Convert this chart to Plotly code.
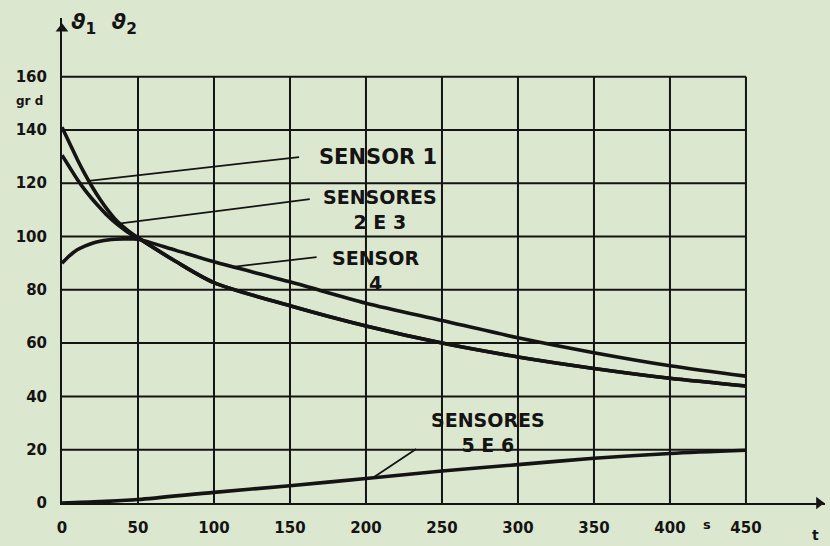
import numpy as np
import plotly.graph_objects as go

# ---------------- data ----------------
t_s = [0, 5, 10, 15, 20, 25, 30, 35, 40, 45, 50, 75, 100, 150, 200, 250, 300, 350, 400, 450]
sensor_1 = [141, 135, 129, 123.5, 118.5, 114, 110, 106.5, 103.8, 101.5, 99.5,
            90.6, 82.7, 74, 66.4, 60, 54.8, 50.5, 46.8, 43.9]
sensores_2_3 = [130.5, 126, 121.5, 117.5, 114, 110.8, 107.8, 105.2, 103, 101, 99.5,
                90.6, 82.7, 74, 66.4, 60, 54.8, 50.5, 46.8, 43.9]
sensor_4 = [90, 92.8, 95, 96.4, 97.5, 98.2, 98.7, 99, 99.1, 99.1, 99,
            94.8, 90.5, 83, 75, 68.5, 62, 56.4, 51.5, 47.6]
t_56 = [0, 25, 50, 100, 150, 200, 250, 300, 350, 400, 450]
sensores_5_6 = [0, 0.5, 1.3, 4, 6.5, 9.2, 12, 14.4, 16.8, 18.6, 19.8]

x_ticks = [0, 50, 100, 150, 200, 250, 300, 350, 400, 450]
x_labels = ["0", "50", "100", "150", "200", "250", "300", "350", "400", "450"]
y_ticks = [0, 20, 40, 60, 80, 100, 120, 140, 160]
y_labels = ["0", "20", "40", "60", "80", "100", "120", "140", "160"]

# ---------------- style ----------------
BG = "rgb(220,231,207)"
INK = "#141414"
FONT = "DejaVu Sans"
X_RANGE = [0, 502]
Y_RANGE = [0, 182]

fig = go.Figure()

# grid drawn only over the 0..450 x 0..160 field, from tick lists
gx, gy = [], []
for v in x_ticks[1:]:
    gx += [v, v, None]
    gy += [0, y_ticks[-1], None]
for v in y_ticks[1:]:
    gx += [0, x_ticks[-1], None]
    gy += [v, v, None]
fig.add_trace(go.Scatter(x=gx, y=gy, mode="lines", line=dict(color=INK, width=2),
                         hoverinfo="skip", showlegend=False))

curve = dict(color=INK, width=3.6, shape="spline", smoothing=0.8)
fig.add_trace(go.Scatter(x=t_s, y=sensor_1, mode="lines", line=curve, name="Sensor 1", showlegend=False))
fig.add_trace(go.Scatter(x=t_s, y=sensores_2_3, mode="lines", line=curve, name="Sensores 2 e 3", showlegend=False))
fig.add_trace(go.Scatter(x=t_s, y=sensor_4, mode="lines", line=curve, name="Sensor 4", showlegend=False))
fig.add_trace(go.Scatter(x=t_56, y=sensores_5_6, mode="lines", line=curve, name="Sensores 5 e 6", showlegend=False))

# axis arrowheads at the ends of the axes
fig.add_trace(go.Scatter(x=[X_RANGE[1] - 4], y=[0], mode="markers", cliponaxis=False,
                         marker=dict(symbol="triangle-right", size=11, color=INK),
                         hoverinfo="skip", showlegend=False))
fig.add_trace(go.Scatter(x=[0], y=[Y_RANGE[1] - 4], mode="markers", cliponaxis=False,
                         marker=dict(symbol="triangle-up", size=11, color=INK),
                         hoverinfo="skip", showlegend=False))

ann = []
shapes = []


def label(text, x, y, size=21):
    ann.append(dict(x=x, y=y, xref="x", yref="y", text=text, showarrow=False,
                    xanchor="center", yanchor="middle",
                    font=dict(family=FONT, size=size, color=INK, weight="bold")))


def leader(px, series_x, series_y, tx, ty):
    py = float(np.interp(px, series_x, series_y))
    shapes.append(dict(type="line", xref="x", yref="y", x0=px, y0=py, x1=tx, y1=ty,
                       line=dict(color=INK, width=1.8)))


label("SENSOR 1", 208, 129.8)
leader(17.6, t_s, sensor_1, 156, 129.8)

label("SENSORES<br>2 E 3", 209, 110, 19)
leader(36, t_s, sensores_2_3, 163, 114)

label("SENSOR<br>4", 206, 87.3, 19)
leader(112.5, t_s, sensor_4, 167.5, 92.3)

label("SENSORES<br>5 E 6", 280, 26.3, 19)
leader(204.6, t_56, sensores_5_6, 233, 20.3)


def paper_text(text, x, y, size):
    ann.append(dict(x=x, y=y, xref="paper", yref="paper", showarrow=False, text=text,
                    xanchor="center", yanchor="middle",
                    font=dict(family=FONT, size=size, color=INK, weight="bold")))


# axis titles / units
ann.append(dict(x=27.5, y=180, xref="x", yref="y", showarrow=False,
                xanchor="center", yanchor="middle",
                text="<i>ϑ</i><sub>1</sub>  <i>ϑ</i><sub>2</sub>",
                font=dict(family=FONT, size=22, color=INK, weight="bold")))
paper_text("gr d", -0.043, 0.829, 12)
paper_text("s", 0.845, -0.045, 13)
paper_text("t", 0.987, -0.066, 14)

tickfont = dict(family=FONT, size=15, color=INK, weight="bold")
fig.update_layout(
    width=830, height=546,
    margin=dict(l=62, r=5, t=18, b=43),
    paper_bgcolor=BG, plot_bgcolor=BG,
    annotations=ann, shapes=shapes,
    xaxis=dict(range=X_RANGE, tickvals=x_ticks, ticktext=x_labels, showgrid=False, zeroline=False,
               showline=True, linecolor=INK, linewidth=2, ticks="outside", ticklen=0,
               ticklabelstandoff=10, tickfont=tickfont),
    yaxis=dict(range=Y_RANGE, tickvals=y_ticks, ticktext=y_labels, showgrid=False, zeroline=False,
               showline=True, linecolor=INK, linewidth=2, ticks="outside", ticklen=0,
               ticklabelstandoff=10, tickfont=tickfont),
)

fig.write_html("out.html", config={"displayModeBar": False},
               post_script="document.body.style.margin='0';document.body.style.padding='0';"
                           "document.body.style.overflow='hidden';"
                           "document.body.style.background='" + BG + "';")
